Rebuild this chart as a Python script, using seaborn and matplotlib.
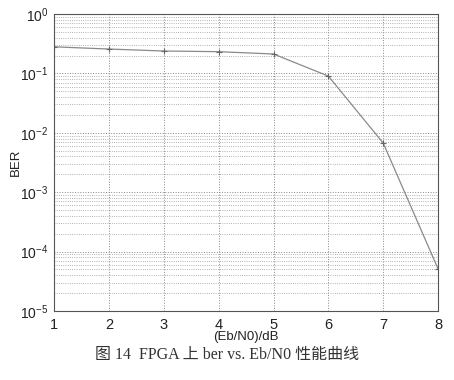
import numpy as np
import pandas as pd
import matplotlib
matplotlib.use("Agg")
import matplotlib.pyplot as plt
import seaborn as sns
from matplotlib.ticker import LogLocator, FixedLocator

ebn0 = [1, 2, 3, 4, 5, 6, 7, 8]
ber = [0.28, 0.257, 0.238, 0.232, 0.212, 0.090, 0.0067, 5.1e-5]
xticks = [1, 2, 3, 4, 5, 6, 7, 8]
caption = "图 14  FPGA 上 ber vs. Eb/N0 性能曲线"

sns.set_style("white")
plt.rcParams['font.family'] = ['Liberation Sans', 'DejaVu Sans']
plt.rcParams['mathtext.fontset'] = 'custom'
plt.rcParams['mathtext.rm'] = 'Liberation Sans'
plt.rcParams['mathtext.it'] = 'Liberation Sans'
plt.rcParams['axes.unicode_minus'] = False

df = pd.DataFrame({"x": ebn0, "y": ber})

fig = plt.figure(figsize=(4.54, 3.8), dpi=100)
ax = fig.add_axes([0.119, 0.1816, 0.846, 0.7816])
sns.lineplot(data=df, x="x", y="y", ax=ax, color="#8a8a8a", linewidth=0.9,
             marker="+", markersize=4, markeredgecolor="#666666", markeredgewidth=0.8)
ax.set_yscale("log")
ax.set_xlim(1, 8)
ax.set_ylim(1e-5, 1)
ax.xaxis.set_major_locator(FixedLocator(xticks))
ax.yaxis.set_major_locator(LogLocator(base=10, numticks=10))
ax.yaxis.set_minor_locator(LogLocator(base=10, subs=np.arange(2, 10), numticks=20))

ax.grid(True, which="major", axis="both", linestyle=":", color="#888888", linewidth=0.7)
ax.grid(True, which="minor", axis="y", linestyle=":", color="#999999", linewidth=0.6)

for s in ax.spines.values():
    s.set_color("#555555")
    s.set_linewidth(0.8)

ax.tick_params(axis="x", which="major", labelsize=10.5, length=3, direction="in",
               color="#555555", pad=5, labelcolor="#222222")
ax.tick_params(axis="y", which="major", labelsize=10, length=3, direction="in",
               color="#555555", pad=4, labelcolor="#222222")
ax.tick_params(axis="y", which="minor", length=1.5, direction="in", color="#555555")

ax.set_xlabel("(Eb/N0)/dB", fontsize=9.5, color="#222222")
ax.set_ylabel("BER", fontsize=9.5, color="#222222")
ax.xaxis.set_label_coords(0.5, -0.088)
ax.yaxis.set_label_coords(-0.099, 0.5)
ax.xaxis.label.set_va("center")
ax.yaxis.label.set_va("center")

fig.text(0.5, 0.066, caption, ha="center", va="center", fontsize=11.5,
         family=["Liberation Serif", "Noto Sans CJK SC"], color="#333333")

fig.savefig("out.png", dpi=100)
